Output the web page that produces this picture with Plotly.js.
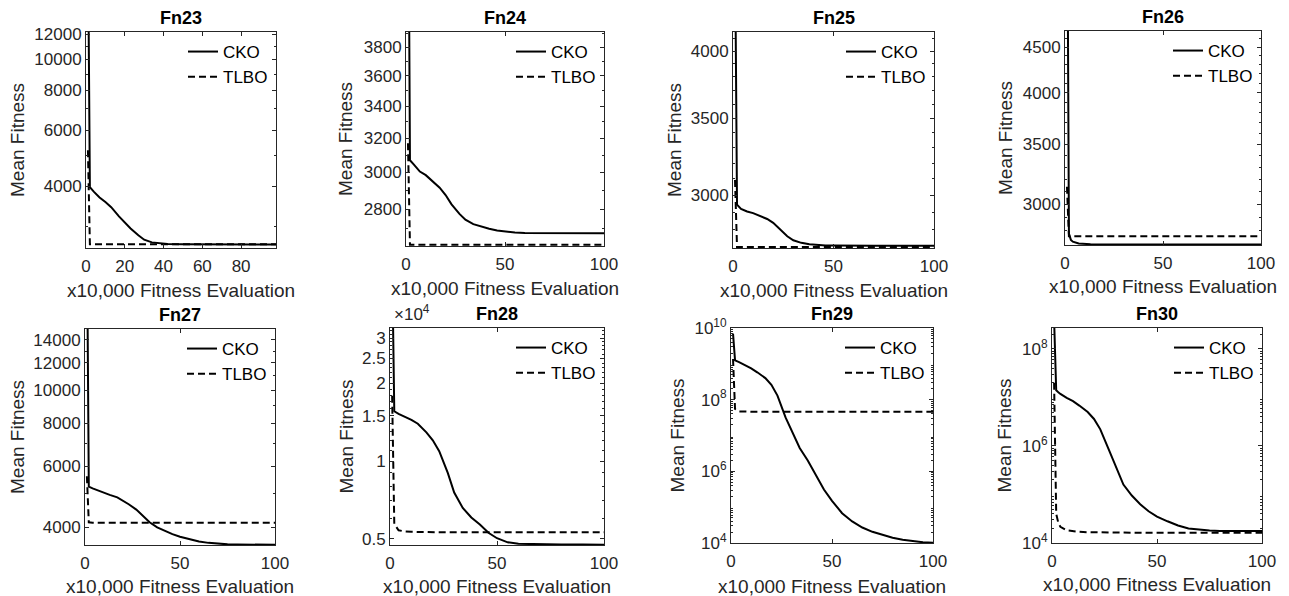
<!DOCTYPE html>
<html><head><meta charset="utf-8">
<script src="https://cdn.plot.ly/plotly-3.0.1.min.js"></script>
<style>html,body{margin:0;padding:0;background:#fff;}#chart{width:1289px;height:596px;}</style>
</head><body><div id="chart"></div>
<script>
// ---------------- DATA ----------------
const seriesNames = ['CKO', 'TLBO'];
const panelTitles = ['Fn23', 'Fn24', 'Fn25', 'Fn26', 'Fn27', 'Fn28', 'Fn29', 'Fn30'];
const xTitle = 'x10,000 Fitness Evaluation';
const yTitle = 'Mean Fitness';

const fn23_x    = [1, 2, 4, 7, 10, 13, 17, 20, 23, 27, 30, 34, 38, 42, 50, 60, 70, 80, 90, 98];
const fn23_cko  = [25000, 3980, 3850, 3690, 3570, 3440, 3220, 3080, 2950, 2810, 2720, 2668, 2645, 2636, 2631, 2629, 2628, 2627, 2627, 2627];
const fn23_tlbo = [5190, 2634, 2634, 2634, 2634, 2634, 2634, 2634, 2634, 2634, 2634, 2634, 2634, 2634, 2634, 2634, 2634, 2634, 2634, 2634];

const fn24_x    = [1, 2, 4, 7, 10, 13, 17, 20, 23, 27, 30, 34, 38, 42, 46, 50, 55, 60, 70, 80, 90, 100];
const fn24_cko  = [6000, 3070, 3045, 3005, 2985, 2955, 2915, 2875, 2825, 2775, 2745, 2722, 2708, 2698, 2689, 2683, 2679, 2677, 2676, 2676, 2676, 2676];
const fn24_tlbo = [3170, 2618, 2618, 2618, 2618, 2618, 2618, 2618, 2618, 2618, 2618, 2618, 2618, 2618, 2618, 2618, 2618, 2618, 2618, 2618, 2618, 2618];

const fn25_x    = [1, 2, 4, 7, 10, 13, 17, 20, 23, 27, 30, 34, 38, 42, 46, 50, 55, 60, 70, 80, 90, 100];
const fn25_cko  = [5000, 2945, 2920, 2905, 2896, 2883, 2862, 2840, 2808, 2765, 2743, 2729, 2721, 2717, 2715, 2714, 2713, 2713, 2713, 2713, 2713, 2713];
const fn25_tlbo = [3094, 2706, 2706, 2706, 2706, 2706, 2706, 2706, 2706, 2706, 2706, 2706, 2706, 2706, 2706, 2706, 2706, 2706, 2706, 2706, 2706, 2706];

const fn26_x    = [1, 2, 3, 4, 7, 10, 13, 17, 20, 30, 40, 50, 60, 70, 80, 90, 100];
const fn26_cko  = [8000, 2780, 2735, 2722, 2710, 2705, 2704, 2703, 2703, 2703, 2703, 2702, 2702, 2702, 2702, 2702, 2702];
const fn26_tlbo = [3137, 2760, 2760, 2760, 2760, 2760, 2760, 2760, 2760, 2760, 2760, 2760, 2760, 2760, 2760, 2760, 2760];

const fn27_x    = [1, 2, 4, 7, 10, 13, 17, 20, 23, 27, 30, 34, 38, 42, 46, 50, 55, 60, 65, 70, 75, 80, 90, 100];
const fn27_cko  = [30000, 5240, 5180, 5100, 5030, 4960, 4880, 4780, 4660, 4495, 4330, 4130, 3990, 3895, 3815, 3748, 3685, 3630, 3598, 3577, 3563, 3558, 3555, 3554];
const fn27_tlbo = [5620, 4130, 4118, 4118, 4118, 4118, 4118, 4118, 4118, 4118, 4118, 4118, 4118, 4118, 4118, 4118, 4118, 4118, 4118, 4118, 4118, 4118, 4118, 4118];

const fn28_x    = [1, 2, 4, 7, 10, 13, 17, 20, 23, 27, 30, 34, 38, 42, 46, 50, 55, 60, 70, 80, 90, 100];
const fn28_cko  = [60000, 15600, 15250, 14850, 14450, 13950, 12920, 12030, 10920, 9000, 7550, 6580, 6040, 5670, 5270, 5020, 4840, 4775, 4750, 4745, 4742, 4740];
const fn28_tlbo = [17900, 5700, 5390, 5330, 5315, 5305, 5300, 5298, 5296, 5295, 5294, 5293, 5293, 5293, 5293, 5293, 5293, 5293, 5293, 5293, 5293, 5293];

const fn29_x    = [1, 2, 4, 7, 10, 13, 17, 20, 23, 27, 30, 34, 38, 42, 46, 50, 55, 60, 65, 70, 75, 80, 85, 90, 95, 100];
const fn29_cko  = [7.0e9, 1.25e9, 1.12e9, 9.3e8, 7.5e8, 5.8e8, 4.0e8, 2.6e8, 1.3e8, 3.2e7, 1.35e7, 4.5e6, 2.0e6, 8.0e5, 3.1e5, 1.5e5, 6.8e4, 4.0e4, 2.7e4, 2.05e4, 1.68e4, 1.4e4, 1.23e4, 1.12e4, 1.05e4, 1.02e4];
const fn29_tlbo = [1.36e9, 5.5e7, 4.7e7, 4.62e7, 4.6e7, 4.6e7, 4.6e7, 4.6e7, 4.6e7, 4.6e7, 4.6e7, 4.6e7, 4.6e7, 4.6e7, 4.6e7, 4.6e7, 4.6e7, 4.6e7, 4.6e7, 4.6e7, 4.6e7, 4.6e7, 4.6e7, 4.6e7, 4.6e7, 4.6e7];

const fn30_x    = [1, 2, 3, 4, 7, 10, 13, 17, 20, 23, 27, 30, 34, 38, 42, 46, 50, 55, 60, 65, 70, 75, 80, 90, 100];
const fn30_cko  = [4.0e8, 1.4e7, 1.28e7, 1.18e7, 9.8e6, 8.4e6, 6.8e6, 5.0e6, 3.6e6, 2.2e6, 8.5e5, 4.0e5, 1.6e5, 9.5e4, 6.3e4, 4.5e4, 3.5e4, 2.8e4, 2.3e4, 2.0e4, 1.87e4, 1.8e4, 1.77e4, 1.76e4, 1.76e4];
const fn30_tlbo = [2.0e7, 4.0e4, 2.6e4, 2.15e4, 1.82e4, 1.74e4, 1.70e4, 1.67e4, 1.66e4, 1.65e4, 1.64e4, 1.63e4, 1.62e4, 1.62e4, 1.62e4, 1.62e4, 1.62e4, 1.62e4, 1.62e4, 1.62e4, 1.62e4, 1.62e4, 1.62e4, 1.62e4, 1.62e4];

const fn23_yticks = [4000, 6000, 8000, 10000, 12000];
const fn24_yticks = [2800, 3000, 3200, 3400, 3600, 3800];
const fn25_yticks = [3000, 3500, 4000];
const fn26_yticks = [3000, 3500, 4000, 4500];
const fn27_yticks = [4000, 6000, 8000, 10000, 12000, 14000];
const fn28_yticks = [5000, 10000, 15000, 20000, 25000, 30000];
const fn28_yticktext = ['0.5', '1', '1.5', '2', '2.5', '3'];
const fn29_yticks = [1e4, 1e6, 1e8, 1e10];
const fn29_yticktext = ['10<sup>4</sup>', '10<sup>6</sup>', '10<sup>8</sup>', '10<sup>10</sup>'];
const fn30_yticks = [1e4, 1e6, 1e8];
const fn30_yticktext = ['10<sup>4</sup>', '10<sup>6</sup>', '10<sup>8</sup>'];

// ---------------- LAYOUT CONFIG ----------------
const W = 1289, H = 596;
const FONT = 'Liberation Sans, Arial, Helvetica, sans-serif';
const TXT = '#262626';

const panels = [
  {x: fn23_x, cko: fn23_cko, tlbo: fn23_tlbo, box: [86, 276, 32, 248], xr: [0, 98], xd: 20, yr: [2562, 12200], yt: fn23_yticks, ytt: null, minorStep: 1000, ytx: 17, xty: 290},
  {x: fn24_x, cko: fn24_cko, tlbo: fn24_tlbo, box: [406, 604, 32, 246], xr: [0, 100], xd: 50, yr: [2612, 3909], yt: fn24_yticks, ytt: null, minorStep: 100, ytx: 346, xty: 288},
  {x: fn25_x, cko: fn25_cko, tlbo: fn25_tlbo, box: [733, 934, 32, 248], xr: [0, 100], xd: 50, yr: [2701, 4157], yt: fn25_yticks, ytt: null, minorStep: 100, ytx: 674, xty: 290},
  {x: fn26_x, cko: fn26_cko, tlbo: fn26_tlbo, box: [1065, 1261, 31, 245], xr: [0, 100], xd: 50, yr: [2699, 4690], yt: fn26_yticks, ytt: null, minorStep: 100, ytx: 1006, xty: 287},
  {x: fn27_x, cko: fn27_cko, tlbo: fn27_tlbo, box: [85, 275, 329, 545], xr: [0, 100], xd: 50, yr: [3547, 15066], yt: fn27_yticks, ytt: null, minorStep: 1000, ytx: 17, xty: 586},
  {x: fn28_x, cko: fn28_cko, tlbo: fn28_tlbo, box: [390, 604, 328, 545], xr: [0, 100], xd: 50, yr: [4725, 32810], yt: fn28_yticks, ytt: fn28_yticktext, minorStep: 1000, ytx: 346, xty: 586},
  {x: fn29_x, cko: fn29_cko, tlbo: fn29_tlbo, box: [731, 933, 328, 543], xr: [0, 100], xd: 50, yr: [1e4, 1e10], yt: fn29_yticks, ytt: fn29_yticktext, minorStep: 'decade', ytx: 677, xty: 586},
  {x: fn30_x, cko: fn30_cko, tlbo: fn30_tlbo, box: [1052, 1262, 328, 543], xr: [0, 100], xd: 50, yr: [1e4, 2.7e8], yt: fn30_yticks, ytt: fn30_yticktext, minorStep: 'decade', ytx: 1004, xty: 584}
];

function minorVals(p) {
  const out = [];
  const [lo, hi] = p.yr;
  if (p.minorStep === 'decade') {
    for (let e = Math.floor(Math.log10(lo)); e <= Math.ceil(Math.log10(hi)); e++) {
      for (let m = 2; m <= 9; m++) { const v = m * Math.pow(10, e); if (v > lo && v < hi) out.push(v); }
    }
  } else {
    for (let v = Math.ceil(lo / p.minorStep) * p.minorStep; v < hi; v += p.minorStep) {
      if (!p.yt.includes(v)) out.push(v);
    }
  }
  return out;
}

const traces = [];
const layout = {
  width: W, height: H,
  margin: {l: 0, r: 0, t: 0, b: 0},
  paper_bgcolor: '#ffffff', plot_bgcolor: '#ffffff',
  font: {family: FONT, color: TXT, size: 17},
  annotations: [], showlegend: true
};

panels.forEach((p, i) => {
  const k = i === 0 ? '' : String(i + 1);
  const [l, r, t, b] = p.box;
  const legendKey = 'legend' + k;
  traces.push({
    type: 'scatter', mode: 'lines', name: seriesNames[0], x: p.x, y: p.cko,
    xaxis: 'x' + k, yaxis: 'y' + k, legend: legendKey,
    line: {color: '#000000', width: 2}
  });
  traces.push({
    type: 'scatter', mode: 'lines', name: seriesNames[1], x: p.x, y: p.tlbo,
    xaxis: 'x' + k, yaxis: 'y' + k, legend: legendKey,
    line: {color: '#000000', width: 2, dash: '7px,4px'}
  });
  const axCommon = {
    showline: true, linecolor: TXT, linewidth: 1, mirror: 'ticks',
    ticks: 'inside', ticklen: 4, tickwidth: 1, tickcolor: TXT,
    showgrid: false, zeroline: false,
    tickfont: {family: FONT, size: 17, color: TXT}, fixedrange: true
  };
  layout['xaxis' + k] = Object.assign({}, axCommon, {
    domain: [l / W, r / W], anchor: 'y' + k, range: p.xr, tick0: 0, dtick: p.xd,
    ticklabelstandoff: 3
  });
  const ya = Object.assign({}, axCommon, {
    domain: [1 - b / H, 1 - t / H], anchor: 'x' + k, type: 'log',
    range: [Math.log10(p.yr[0]), Math.log10(p.yr[1])],
    tickmode: 'array', tickvals: p.yt,
    minor: {ticks: 'inside', ticklen: 2, tickcolor: TXT, tickmode: 'array', tickvals: minorVals(p)}
  });
  if (p.ytt) ya.ticktext = p.ytt; else ya.ticktext = p.yt.map(v => String(v));
  layout['yaxis' + k] = ya;

  layout[legendKey] = {
    x: (r - 93) / W, y: 1 - (t + 2) / H, xanchor: 'left', yanchor: 'top',
    bgcolor: 'rgba(0,0,0,0)', borderwidth: 0, itemwidth: 30,
    font: {family: FONT, size: 17, color: '#000000'}, tracegroupgap: 0
  };

  // panel title
  layout.annotations.push({
    xref: 'paper', yref: 'paper', x: (l + r) / 2 / W, y: 1 - (t - 14) / H,
    text: '<b>' + panelTitles[i] + '</b>', showarrow: false,
    xanchor: 'center', yanchor: 'middle', font: {family: FONT, size: 18, color: '#000000'}
  });
  // x title
  layout.annotations.push({
    xref: 'paper', yref: 'paper', x: (l + r) / 2 / W, y: 1 - p.xty / H,
    text: xTitle, showarrow: false, xanchor: 'center', yanchor: 'middle',
    font: {family: FONT, size: 19, color: TXT}
  });
  // y title
  layout.annotations.push({
    xref: 'paper', yref: 'paper', x: p.ytx / W, y: 1 - (t + b) / 2 / H,
    text: yTitle, showarrow: false, textangle: -90, xanchor: 'center', yanchor: 'middle',
    font: {family: FONT, size: 19, color: TXT}
  });
});

// exponent multiplier label for Fn28
layout.annotations.push({
  xref: 'paper', yref: 'paper', x: 392 / W, y: 1 - 313 / H,
  text: '\u00d710<sup>4</sup>', showarrow: false, xanchor: 'left', yanchor: 'middle',
  font: {family: FONT, size: 17, color: TXT}
});

Plotly.newPlot('chart', traces, layout, {staticPlot: true, displayModeBar: false});
</script>
</body></html>
